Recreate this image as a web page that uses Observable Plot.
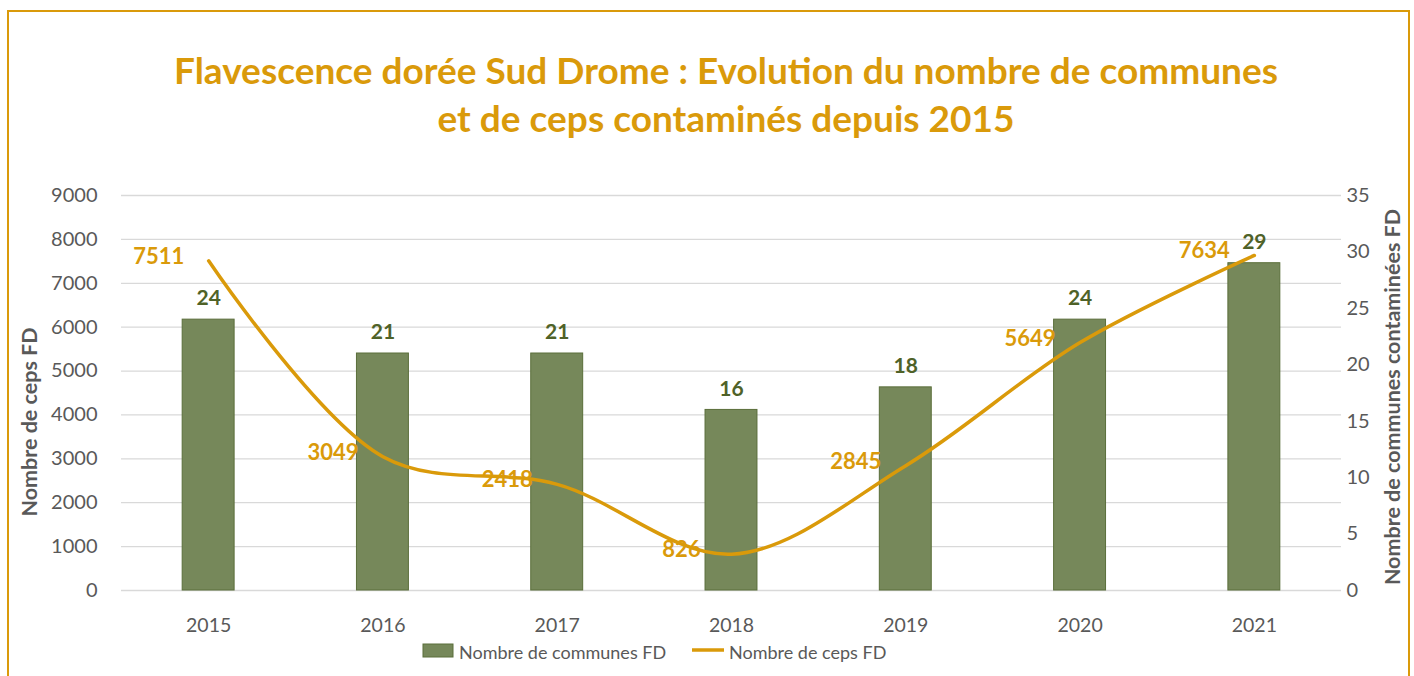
<!DOCTYPE html>
<html>
<head>
<meta charset="utf-8">
<script src="https://cdn.jsdelivr.net/npm/d3@7"></script>
<script src="https://cdn.jsdelivr.net/npm/@observablehq/plot@0.6"></script>
<style>
  body { margin: 0; background: #fff; font-family: Lato, sans-serif; }
  #wrap { position: relative; width: 1414px; height: 676px; overflow: hidden; background: #fff; }
  #frame { position: absolute; left: 7px; top: 10px; width: 1403px; height: 720px; border: 2.5px solid #DA9A0A; box-sizing: border-box; }
  #title { position: absolute; left: 0; top: 0; }
  #chart { position: absolute; left: 0; top: 180px; }
  #legend { position: absolute; left: 0; top: 620px; }
</style>
</head>
<body>
<div id="wrap">
  <div id="frame"></div>
  <svg id="title" width="1414" height="180"></svg>
  <div id="chart"></div>
  <svg id="legend" width="1414" height="56"></svg>
</div>
<script>
// ---- data ----
const years = [2015, 2016, 2017, 2018, 2019, 2020, 2021];
const communes = [24, 21, 21, 16, 18, 24, 29];
const ceps = [7511, 3049, 2418, 826, 2845, 5649, 7634];
const leftTicks = [0, 1000, 2000, 3000, 4000, 5000, 6000, 7000, 8000, 9000];
const rightTicks = [0, 5, 10, 15, 20, 25, 30, 35];
const titleLines = ["Flavescence dorée Sud Drome : Evolution du nombre de communes", "et de ceps contaminés depuis 2015"];
const leftLabel = "Nombre de ceps FD";
const rightLabel = "Nombre de communes contaminées FD";
const seriesNames = ["Nombre de communes FD", "Nombre de ceps FD"];

const GOLD = "#DA9A0A";
const BAR = "#76885A";
const BAR_STROKE = "#5A6E3A";
const BAR_LABEL = "#4F6228";
const AXIS = "#595959";

const leftMax = leftTicks[leftTicks.length - 1];
const rightMax = rightTicks[rightTicks.length - 1];
const k = leftMax / rightMax;

const data = years.map((year, i) => ({year, communes: communes[i], ceps: ceps[i]}));

// ---- title ----
const tsvg = d3.select("#title");
tsvg.append("text").attr("x", 726).attr("y", 84).attr("text-anchor", "middle")
  .attr("fill", GOLD).attr("font-family", "Lato").attr("font-weight", "bold").attr("font-size", 37)
  .text(titleLines[0]);
tsvg.append("text").attr("x", 726).attr("y", 132).attr("text-anchor", "middle")
  .attr("fill", GOLD).attr("font-family", "Lato").attr("font-weight", "bold").attr("font-size", 37)
  .text(titleLines[1]);

// ---- chart ----
const chart = Plot.plot({
  width: 1414,
  height: 440,
  marginTop: 15,
  marginBottom: 30,
  marginLeft: 121,
  marginRight: 73,
  style: {fontFamily: "Lato, sans-serif", background: "transparent", overflow: "visible"},
  x: {domain: [years[0] - 0.5, years[years.length - 1] + 0.5], axis: null},
  y: {domain: [0, leftMax], axis: null},
  marks: [
    Plot.gridY(leftTicks, {stroke: "#D9D9D9", strokeOpacity: 1, strokeWidth: 1.3}),
    Plot.axisY({ticks: leftTicks, tickFormat: d => String(d), tickSize: 0, tickPadding: 24, color: AXIS, fontSize: 20, label: null}),
    Plot.axisY({anchor: "right", ticks: rightTicks.map(t => t * k), tickFormat: d => String(Math.round(d / k)),
      tickSize: 0, tickPadding: 5, color: AXIS, fontSize: 20, label: null}),
    Plot.axisX({ticks: years, tickFormat: d => String(d), tickSize: 0, tickPadding: 28, color: AXIS, fontSize: 19.5, label: null}),
    Plot.rectY(data, {x1: d => d.year - 0.149, x2: d => d.year + 0.149, y1: 0, y2: d => d.communes * k,
      fill: BAR, stroke: BAR_STROKE, strokeWidth: 1}),
    Plot.text(data, {x: "year", y: d => d.communes * k, text: d => String(d.communes), dy: -21,
      fill: BAR_LABEL, fontWeight: "bold", fontSize: 21}),
    Plot.line(data, {x: "year", y: "ceps", stroke: GOLD, strokeWidth: 3.5, curve: "catmull-rom"}),
    Plot.text(data, {x: "year", y: "ceps", text: d => String(d.ceps), dx: -50, dy: -4,
      fill: GOLD, fontWeight: "bold", fontSize: 22}),
    Plot.text([leftLabel], {frameAnchor: "left", textAnchor: "middle", dx: -91, dy: 29, rotate: -90, text: d => d,
      fill: AXIS, fontWeight: "bold", fontSize: 21.5}),
    Plot.text([rightLabel], {frameAnchor: "right", textAnchor: "middle", dx: 52, dy: 4, rotate: -90, text: d => d,
      fill: AXIS, fontWeight: "bold", fontSize: 21.5})
  ]
});
document.getElementById("chart").appendChild(chart);

// ---- legend ----
const lsvg = d3.select("#legend");
lsvg.append("rect").attr("x", 423).attr("y", 24).attr("width", 30).attr("height", 13)
  .attr("fill", BAR).attr("stroke", BAR_STROKE).attr("stroke-width", 1);
lsvg.append("text").attr("x", 459).attr("y", 32).attr("dominant-baseline", "central")
  .attr("fill", AXIS).attr("font-family", "Lato").attr("font-size", 18).text(seriesNames[0]);
lsvg.append("line").attr("x1", 692).attr("x2", 724).attr("y1", 30).attr("y2", 30)
  .attr("stroke", GOLD).attr("stroke-width", 3.5);
lsvg.append("text").attr("x", 729).attr("y", 32).attr("dominant-baseline", "central")
  .attr("fill", AXIS).attr("font-family", "Lato").attr("font-size", 18).text(seriesNames[1]);
</script>
</body>
</html>
